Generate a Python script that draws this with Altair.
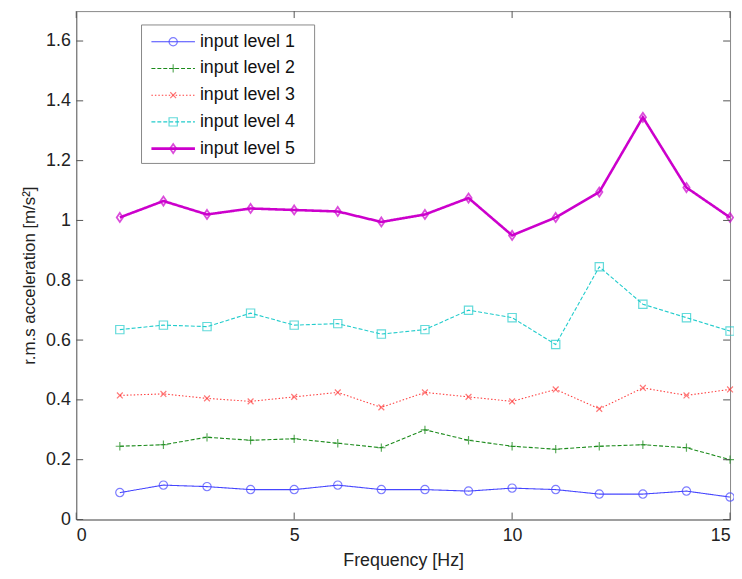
import altair as alt
import pandas as pd

freq = list(range(1, 16))
series_names = ["input level 1", "input level 2", "input level 3", "input level 4", "input level 5"]
level1 = [0.09, 0.115, 0.11, 0.10, 0.10, 0.115, 0.10, 0.10, 0.095, 0.105, 0.10, 0.085, 0.085, 0.095, 0.075]
level2 = [0.245, 0.25, 0.275, 0.265, 0.27, 0.255, 0.24, 0.30, 0.265, 0.245, 0.235, 0.245, 0.25, 0.24, 0.20]
level3 = [0.415, 0.42, 0.405, 0.395, 0.41, 0.425, 0.375, 0.425, 0.41, 0.395, 0.435, 0.37, 0.44, 0.415, 0.435]
level4 = [0.635, 0.65, 0.645, 0.69, 0.65, 0.655, 0.62, 0.635, 0.70, 0.675, 0.585, 0.845, 0.72, 0.675, 0.63]
level5 = [1.01, 1.065, 1.02, 1.04, 1.035, 1.03, 0.995, 1.02, 1.075, 0.95, 1.01, 1.095, 1.345, 1.11, 1.01]
x_ticks = [0, 5, 10, 15]
y_ticks = [0, 0.2, 0.4, 0.6, 0.8, 1.0, 1.2, 1.4, 1.6]

colors = ["#4646ff", "#1a8a1a", "#ff4040", "#22cccc", "#cc00cc"]
dashes = [[1, 0], [4, 2], [1.5, 2], [4, 2], [1, 0]]
shapes = [
    "circle",
    "M-1,0L1,0M0,-1L0,1",
    "M-0.7,-0.7L0.7,0.7M-0.7,0.7L0.7,-0.7",
    "square",
    "M0,-1.1L0.75,0L0,1.1L-0.75,0Z",
]
sizes = [70, 70, 45, 60, 110]

rows = []
for name, vals in zip(series_names, [level1, level2, level3, level4, level5]):
    for f, v in zip(freq, vals):
        rows.append({"freq": f, "val": v, "series": name})
df = pd.DataFrame(rows)

W, H = 661, 514
font = "Liberation Sans"
LBL = 18

color_sc = alt.Scale(domain=series_names, range=colors)
dash_sc = alt.Scale(domain=series_names, range=dashes)
shape_sc = alt.Scale(domain=series_names, range=shapes)
size_sc = alt.Scale(domain=series_names, range=sizes)

xs = alt.Scale(domain=[0, 15], nice=False, zero=False)
ys = alt.Scale(domain=[0, 1.7], nice=False)

thick = "datum.series == 'input level 5'"

base = alt.Chart(df)

lines = base.mark_line().encode(
    x=alt.X("freq:Q", scale=xs,
            axis=alt.Axis(values=x_ticks, title="Frequency [Hz]", grid=False, tickSize=0,
                          labelFontSize=LBL, titleFontSize=LBL, labelFont=font, titleFont=font,
                          labelColor="#222", titleColor="#222", domainColor="#777",
                          labelPadding=7, titleY=42, titleBaseline="middle",
                          titleFontWeight="normal")),
    y=alt.Y("val:Q", scale=ys,
            axis=alt.Axis(values=y_ticks, title="r.m.s  acceleration [m/s²]", grid=False, tickSize=0,
                          labelFontSize=LBL, titleFontSize=17, labelFont=font, titleFont=font,
                          labelColor="#222", titleColor="#222", domainColor="#777",
                          labelPadding=6, titleFontWeight="normal",
                          titleX=-47, titleY=H / 2 + 10, titleAngle=-90, titleAlign="center",
                          titleBaseline="middle",
                          labelExpr="datum.value == 1 ? '1' : datum.value == 0 ? '0' : format(datum.value, '.1f')")),
    color=alt.Color("series:N", scale=color_sc, legend=None),
    strokeDash=alt.StrokeDash("series:N", scale=dash_sc, legend=None),
    strokeWidth=alt.condition(thick, alt.value(2.6), alt.value(1.1)),
    detail="series:N",
)

points = base.mark_point(filled=False).encode(
    x=alt.X("freq:Q", scale=xs),
    y=alt.Y("val:Q", scale=ys),
    color=alt.Color("series:N", scale=color_sc, legend=None),
    shape=alt.Shape("series:N", scale=shape_sc, legend=None),
    size=alt.Size("series:N", scale=size_sc, legend=None),
    strokeWidth=alt.condition(thick, alt.value(1.8), alt.value(1.2)),
)

# inward ticks (MATLAB style) on all four sides
xt = pd.DataFrame({"t": x_ticks})
yt = pd.DataFrame({"t": y_ticks})
tick_col = "#555"
xb = alt.Chart(xt).mark_rule(color=tick_col).encode(x=alt.X("t:Q", scale=xs), y=alt.value(H), y2=alt.value(H - 7))
xtop = alt.Chart(xt).mark_rule(color=tick_col).encode(x=alt.X("t:Q", scale=xs), y=alt.value(0), y2=alt.value(7))
yl = alt.Chart(yt).mark_rule(color=tick_col).encode(y=alt.Y("t:Q", scale=ys), x=alt.value(0), x2=alt.value(7))
yr = alt.Chart(yt).mark_rule(color=tick_col).encode(y=alt.Y("t:Q", scale=ys), x=alt.value(W), x2=alt.value(W - 7))

# custom legend
leg = pd.DataFrame({"series": series_names, "idx": list(range(5))})
lbase = alt.Chart(leg).transform_calculate(ly="31 + datum.idx * 27")
box = alt.Chart(pd.DataFrame({"a": [0]})).mark_rect(fill="white", stroke="#888", strokeWidth=1).encode(
    x=alt.value(66), x2=alt.value(241), y=alt.value(14), y2=alt.value(154))
lrule = lbase.mark_rule().encode(
    x=alt.value(76), x2=alt.value(120), y=alt.Y("ly:Q", scale=None),
    color=alt.Color("series:N", scale=color_sc, legend=None),
    strokeDash=alt.StrokeDash("series:N", scale=dash_sc, legend=None),
    strokeWidth=alt.condition(thick, alt.value(2.6), alt.value(1.1)),
)
lpt = lbase.mark_point(filled=False).encode(
    x=alt.value(98), y=alt.Y("ly:Q", scale=None),
    color=alt.Color("series:N", scale=color_sc, legend=None),
    shape=alt.Shape("series:N", scale=shape_sc, legend=None),
    size=alt.Size("series:N", scale=size_sc, legend=None),
    strokeWidth=alt.condition(thick, alt.value(1.8), alt.value(1.2)),
)
ltxt = lbase.mark_text(align="left", baseline="middle", fontSize=LBL, font=font, color="#111").encode(
    x=alt.value(125), y=alt.Y("ly:Q", scale=None), text="series:N")

chart = alt.layer(lines, points, xb, xtop, yl, yr, box, lrule, lpt, ltxt).properties(
    width=W, height=H,
    autosize=alt.AutoSizeParams(type="none"),
    padding={"left": 69, "top": 0, "right": 4, "bottom": 57},
    background="white",
).configure_view(stroke="#888", strokeWidth=1)

chart.save("out.html", embed_options={"renderer": "svg", "actions": False})
